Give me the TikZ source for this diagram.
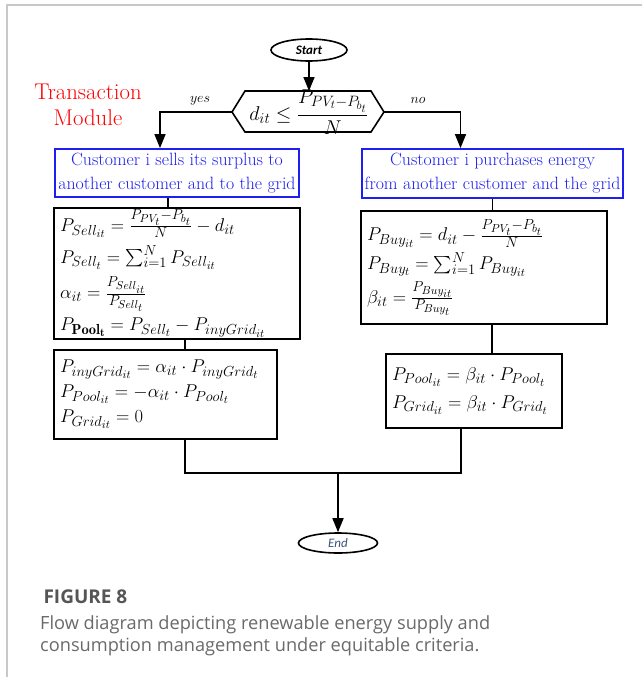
\RequirePackage{fix-cm}
\documentclass[tikz,border=0pt]{standalone}
\usepackage{amsmath}
\usepackage{fontspec}
\newfontfamily\capfont{Open Sans}
\newfontfamily\termfont{Carlito}
\usetikzlibrary{arrows.meta,calc,shapes.geometric}
\DeclareMathSizes{18.5}{18.5}{14.5}{11.5}
\DeclareMathSizes{20}{20}{15}{12}
\definecolor{framegray}{HTML}{C8C8C8}
\definecolor{capgray}{HTML}{6A6A6A}
\definecolor{titlegray}{HTML}{555555}
\definecolor{boxblue}{HTML}{1E1EF0}
\definecolor{endblue}{HTML}{3A5580}
\tikzset{
  flow/.style={line width=1.6pt,draw=black},
  arr/.style={flow,-{Triangle[length=14pt,width=11pt]}},
  terminal/.style={ellipse,draw,line width=1.6pt,inner sep=0pt},
  bluebox/.style={draw=boxblue,line width=1.8pt,text=boxblue,align=center,
    inner sep=0pt,font=\fontsize{17.8}{24}\selectfont},
  eqbox/.style={draw,line width=1.6pt,align=left,inner xsep=6pt,inner ysep=0pt,
    font=\fontsize{18.5}{22}\selectfont},
}
\begin{document}
\begin{tikzpicture}[x=1pt,y=-1pt]
\useasboundingbox (0,0) rectangle (642,677);
\fill[white] (0,0) rectangle (642,677);
% page frame
\draw[framegray,line width=1.5pt] (7,677) -- (7,5) -- (642,5);

% terminals
\node[terminal,minimum width=76pt,minimum height=22pt] (start) at (309,50)
  {\termfont\fontsize{13}{15}\selectfont\bfseries\itshape Start};
\node[terminal,minimum width=79pt,minimum height=20pt] (end) at (338,543)
  {\termfont\fontsize{13}{15}\selectfont\itshape\color{endblue}End};

% decision
\node (dec) at (309,112) {\fontsize{20}{22}\selectfont$d_{it}\le\dfrac{P_{PV_t-P_{b_t}}}{N}$};
\coordinate (decL) at (232,112);
\coordinate (decR) at (384,112);
\draw[flow] (decL) -- (245,91) -- (371,91) -- (decR) -- (371,132) -- (245,132) -- cycle;

% module title
\node[text=red,align=center,font=\fontsize{22.8}{26}\selectfont] (title) at (88,105)
  {Transaction\\Module};

% action boxes
\node[bluebox,minimum width=244pt,minimum height=48pt] (sell) at (177,173)
  {Customer i sells its surplus to\\another customer and to the grid};
\node[bluebox,minimum width=261pt,minimum height=49pt] (buy) at (492.5,173.5)
  {Customer i purchases energy\\from another customer and the grid};

% equation boxes
\node[eqbox,text width=234pt,minimum height=131pt] (s1) at (177,273.5)
  {$P_{Sell_{it}}=\tfrac{P_{PV_t}-P_{b_t}}{N}-d_{it}$\\[7pt]
   $P_{Sell_t}=\sum_{i=1}^{N}P_{Sell_{it}}$\\[6pt]
   $\alpha_{it}=\tfrac{P_{Sell_{it}}}{P_{Sell_t}}$\\[6pt]
   $P_{\mathbf{Pool}_{\mathbf{t}}}=P_{Sell_t}-P_{inyGrid_{it}}$};
\node[eqbox,text width=211pt,minimum height=89pt] (s2) at (165.5,394.5)
  {$P_{inyGrid_{it}}=\alpha_{it}\cdot P_{inyGrid_t}$\\[3pt]
   $P_{Pool_{it}}=-\alpha_{it}\cdot P_{Pool_t}$\\[3pt]
   $P_{Grid_{it}}=0$};
\node[eqbox,text width=234pt,minimum height=113pt] (b1) at (484,267.5)
  {$P_{Buy_{it}}=d_{it}-\tfrac{P_{PV_t}-P_{b_t}}{N}$\\[4pt]
   $P_{Buy_t}=\sum_{i=1}^{N}P_{Buy_{it}}$\\[4pt]
   $\beta_{it}=\tfrac{P_{Buy_{it}}}{P_{Buy_t}}$};
\node[eqbox,text width=164pt,minimum height=74pt] (b2) at (474,391)
  {$P_{Pool_{it}}=\beta_{it}\cdot P_{Pool_t}$\\[6pt]
   $P_{Grid_{it}}=\beta_{it}\cdot P_{Grid_t}$};

% branch labels
\node[font=\fontsize{14}{16}\selectfont] (yes) at (200,101) {$yes$};
\node[font=\fontsize{14}{16}\selectfont] (no) at (418,100) {$no$};

% connectors
\draw[arr] (start.south) -- (start.south |- 0,91);
\draw[arr] (decL) -| ([xshift=-17pt]sell.north);
\draw[arr] (decR) -| ([xshift=-32pt]buy.north);
\draw[flow] ([xshift=-9pt]sell.south) -- ([xshift=-9pt]sell.south |- s1.north);
\draw[flow] ([xshift=8pt]s1.south) -- ([xshift=8pt]s1.south |- s2.north);
\draw[flow] (buy.south) -- (buy.south |- b1.north);
\draw[flow] ([xshift=8pt]b1.south) -- ([xshift=8pt]b1.south |- b2.north);
\coordinate (jl) at (185,473);
\coordinate (jr) at (461,473);
\draw[flow] (jl |- s2.south) -- (jl) -- (jr) -- (jr |- b2.south);
\draw[arr] (end.north |- jl) -- (end.north);

% caption
\node[anchor=base west,text=titlegray,font=\capfont\bfseries\fontsize{19}{22}\selectfont] (fig) at (40,603) {FIGURE 8};
\node[anchor=north west,inner sep=0pt,text=capgray,align=left,font=\capfont\fontsize{18.2}{22.5}\selectfont] (cap) at (40,615)
  {Flow diagram depicting renewable energy supply and\\consumption management under equitable criteria.};
\end{tikzpicture}
\end{document}
